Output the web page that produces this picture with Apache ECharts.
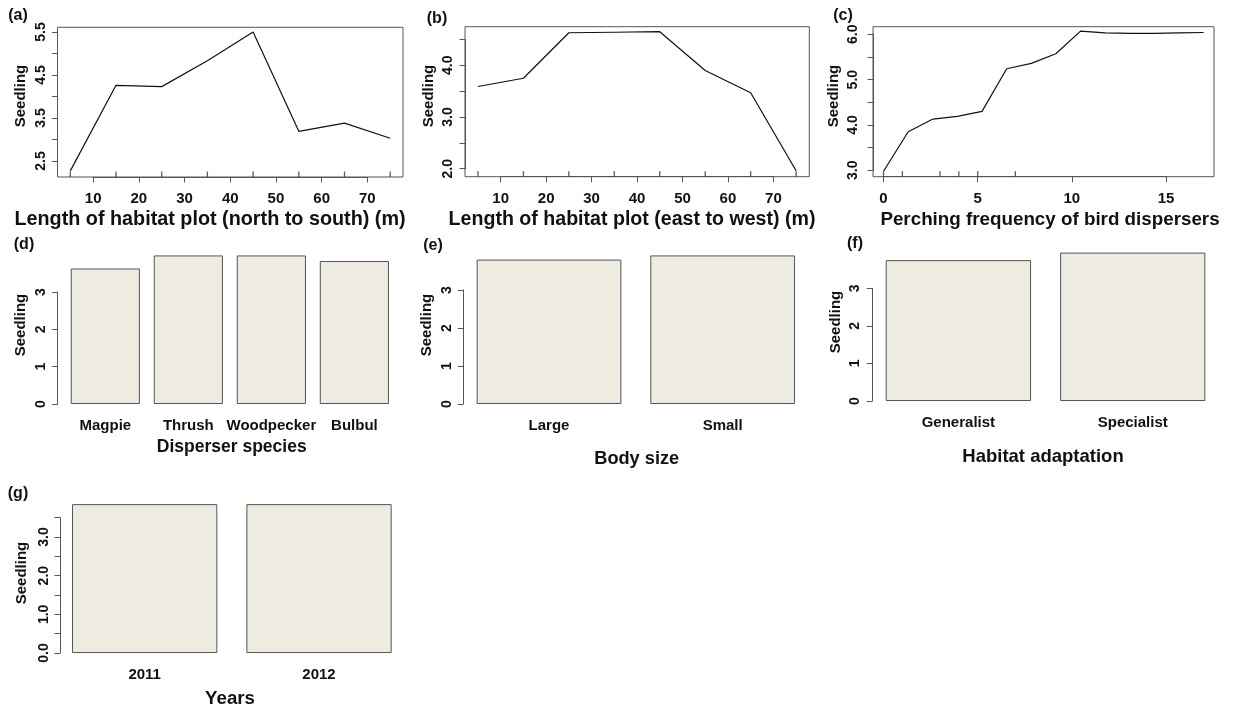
<!DOCTYPE html>
<html><head><meta charset="utf-8">
<script src="https://cdn.jsdelivr.net/npm/echarts@6/dist/echarts.min.js"></script>
<style>html,body{margin:0;padding:0;background:#fff}#c{width:1235px;height:710px}</style>
</head><body><div id="c"></div>
<script>
// ---------------- data ----------------
const aX = [5, 15, 25, 35, 45, 55, 65, 75];
const aY = [2.27, 4.26, 4.23, 4.83, 5.50, 3.19, 3.38, 3.03];
const aRug = [5, 15, 25, 35, 45, 55, 65, 75];
const aXTicks = [10, 20, 30, 40, 50, 60, 70];
const aXLabels = ['10', '20', '30', '40', '50', '60', '70'];
const aYTicks = [2.5, 3.0, 3.5, 4.0, 4.5, 5.0, 5.5];
const aYLabels = ['2.5', '', '3.5', '', '4.5', '', '5.5'];

const bX = [5, 15, 25, 35, 45, 55, 65, 75];
const bY = [3.59, 3.75, 4.63, 4.64, 4.65, 3.90, 3.47, 1.96];
const bRug = [5, 15, 25, 35, 45, 55, 65, 75];
const bXTicks = [10, 20, 30, 40, 50, 60, 70];
const bXLabels = ['10', '20', '30', '40', '50', '60', '70'];
const bYTicks = [2.0, 2.5, 3.0, 3.5, 4.0, 4.5];
const bYLabels = ['2.0', '', '3.0', '', '4.0', ''];

const cX = [0, 1.31, 2.62, 3.92, 5.23, 6.54, 7.85, 9.15, 10.46, 11.77, 13.08, 14.38, 15.69, 17.0];
const cY = [2.98, 3.85, 4.13, 4.19, 4.30, 5.24, 5.36, 5.57, 6.07, 6.03, 6.02, 6.02, 6.03, 6.04];
const cRug = [0, 1, 3, 4, 5, 7];
const cXTicks = [0, 5, 10, 15];
const cXLabels = ['0', '5', '10', '15'];
const cYTicks = [3.0, 3.5, 4.0, 4.5, 5.0, 5.5, 6.0];
const cYLabels = ['3.0', '', '4.0', '', '5.0', '', '6.0'];

const dCats = ['Magpie', 'Thrush', 'Woodpecker', 'Bulbul'];
const dVals = [3.63, 3.98, 3.98, 3.83];
const dYTicks = [0, 1, 2, 3];
const dYLabels = ['0', '1', '2', '3'];

const eCats = ['Large', 'Small'];
const eVals = [3.80, 3.91];
const eYTicks = [0, 1, 2, 3];
const eYLabels = ['0', '1', '2', '3'];

const fCats = ['Generalist', 'Specialist'];
const fVals = [3.75, 3.95];
const fYTicks = [0, 1, 2, 3];
const fYLabels = ['0', '1', '2', '3'];

const gCats = ['2011', '2012'];
const gVals = [3.85, 3.85];
const gYTicks = [0, 0.5, 1.0, 1.5, 2.0, 2.5, 3.0, 3.5];
const gYLabels = ['0.0', '', '1.0', '', '2.0', '', '3.0', ''];

// ---------------- layout / style ----------------
const FONT = '"Liberation Sans", Arial, sans-serif';
const AX = '#555';
const TXT = '#111';

const grids = [], xAxes = [], yAxes = [], series = [], graphics = [];

function addGrid(r, extra) {
  grids.push(Object.assign({left: r.l, top: r.t, width: r.r - r.l, height: r.b - r.t,
    show: false, containLabel: false, outerBoundsMode: 'none'}, extra || {}));
  return grids.length - 1;
}
function lbl(ticks, labels) {
  return function (v) {
    for (let i = 0; i < ticks.length; i++) if (Math.abs(ticks[i] - v) < 1e-6) return labels[i];
    return '';
  };
}
function visAxis(gi, ticks, labels, pos, margin, rotate, size) {
  return {
    gridIndex: gi, type: 'value', position: pos,
    min: ticks[0], max: ticks[ticks.length - 1], interval: ticks[1] - ticks[0],
    axisLine: {show: true, lineStyle: {color: AX, width: 1}},
    axisTick: {show: true, inside: false, length: 5.5, lineStyle: {color: AX, width: 1}},
    splitLine: {show: false},
    axisLabel: {show: true, formatter: lbl(ticks, labels), color: TXT, fontFamily: FONT,
      fontWeight: 'bold', fontSize: size, margin: margin, rotate: rotate || 0,
      verticalAlign: 'middle', showMinLabel: true, showMaxLabel: true}
  };
}
function text(str, x, y, size, rot) {
  graphics.push({type: 'text', x: x, y: y, rotation: rot || 0, silent: true,
    style: {text: str, fontFamily: FONT, fontWeight: 'bold', fontSize: size, fill: TXT,
      align: 'center', verticalAlign: 'middle', textAlign: 'center', textVerticalAlign: 'middle'}});
}

function linePanel(P, xs, ys, rug, xT, xL, yT, yL) {
  const gi = addGrid(P.plot, {show: true, borderColor: AX, borderWidth: 1, backgroundColor: 'transparent'});
  const xi = xAxes.length, yi = yAxes.length;
  xAxes.push({gridIndex: gi, type: 'value', min: P.xr[0], max: P.xr[1], show: false});
  yAxes.push({gridIndex: gi, type: 'value', min: P.yr[0], max: P.yr[1], show: false});
  series.push({type: 'line', xAxisIndex: xi, yAxisIndex: yi, data: xs.map((x, i) => [x, ys[i]]),
    symbol: 'none', silent: true, lineStyle: {color: '#111', width: 1.2}, animation: false});
  series.push({type: 'scatter', xAxisIndex: xi, yAxisIndex: yi, data: rug.map(x => [x, P.yr[0]]),
    symbol: 'rect', symbolSize: [1.3, 5.5], symbolOffset: [0, -2.75], silent: true,
    itemStyle: {color: '#333'}, animation: false});
  const px = v => P.plot.l + (v - P.xr[0]) / (P.xr[1] - P.xr[0]) * (P.plot.r - P.plot.l);
  const py = v => P.plot.b - (v - P.yr[0]) / (P.yr[1] - P.yr[0]) * (P.plot.b - P.plot.t);
  // x axis
  const gx = addGrid({l: px(xT[0]), r: px(xT[xT.length - 1]), t: P.plot.b - 1, b: P.plot.b});
  xAxes.push(visAxis(gx, xT, xL, 'bottom', 22, 0, 15));
  yAxes.push({gridIndex: gx, type: 'value', show: false});
  // y axis
  const gy = addGrid({l: P.plot.l, r: P.plot.l + 1, t: py(yT[yT.length - 1]), b: py(yT[0])});
  xAxes.push({gridIndex: gy, type: 'value', show: false});
  yAxes.push(visAxis(gy, yT, yL, 'left', P.ym, 90, 14));
}

function barPanel(P, cats, vals, yT, yL) {
  const gi = addGrid({l: P.l, r: P.r, t: P.zero - P.unit * P.ymax, b: P.zero});
  const xi = xAxes.length, yi = yAxes.length;
  xAxes.push({gridIndex: gi, type: 'category', data: cats, boundaryGap: true,
    axisLine: {show: false}, axisTick: {show: false}, splitLine: {show: false},
    axisLabel: {show: true, interval: 0, color: TXT, fontFamily: FONT, fontWeight: 'bold',
      fontSize: 15, margin: 22, verticalAlign: 'middle'}});
  yAxes.push({gridIndex: gi, type: 'value', min: 0, max: P.ymax, show: false});
  series.push({type: 'bar', xAxisIndex: xi, yAxisIndex: yi, data: vals, barCategoryGap: '16.667%',
    silent: true, animation: false,
    itemStyle: {color: '#EEEBE0', borderColor: '#555', borderWidth: 1}});
  const ga = addGrid({l: P.axisX, r: P.axisX + 1, t: P.zero - P.unit * yT[yT.length - 1], b: P.zero});
  xAxes.push({gridIndex: ga, type: 'value', show: false});
  yAxes.push(visAxis(ga, yT, yL, 'left', P.ym, 90, 14));
}

linePanel({plot: {l: 57.5, t: 27.3, r: 403, b: 177}, xr: [2.2, 77.8], yr: [2.128, 5.609], ym: 16.5},
  aX, aY, aRug, aXTicks, aXLabels, aYTicks, aYLabels);
linePanel({plot: {l: 465, t: 26.7, r: 809.3, b: 176.7}, xr: [2.15, 77.9], yr: [1.845, 4.747], ym: 16.5},
  bX, bY, bRug, bXTicks, bXLabels, bYTicks, bYLabels);
linePanel({plot: {l: 873, t: 26.7, r: 1214, b: 176.7}, xr: [-0.56, 17.55], yr: [2.859, 6.168], ym: 20},
  cX, cY, cRug, cXTicks, cXLabels, cYTicks, cYLabels);

barPanel({l: 63.8, r: 395.9, zero: 404, unit: 37.33, ymax: 4.2, axisX: 57.7, ym: 17}, dCats, dVals, dYTicks, dYLabels);
barPanel({l: 462.2, r: 809.5, zero: 404, unit: 38.0, ymax: 4.2, axisX: 463.3, ym: 16}, eCats, eVals, eYTicks, eYLabels);
barPanel({l: 871.2, r: 1219.9, zero: 401, unit: 37.57, ymax: 4.2, axisX: 872.3, ym: 17}, fCats, fVals, fYTicks, fYLabels);
barPanel({l: 57.5, r: 406.2, zero: 653, unit: 38.67, ymax: 4.2, axisX: 60, ym: 16}, gCats, gVals, gYTicks, gYLabels);

// panel letters
text('(a)', 18, 16, 16); text('(b)', 437, 19, 16); text('(c)', 843, 16, 16);
text('(d)', 24, 245, 16); text('(e)', 433, 246, 16); text('(f)', 855, 244, 16); text('(g)', 18, 494, 16);
// axis titles
text('Length of habitat plot (north to south) (m)', 210, 220, 19.8);
text('Length of habitat plot (east to west) (m)', 632, 220, 19.6);
text('Perching frequency of bird dispersers', 1050, 220, 18.8);
text('Disperser species', 231.7, 447, 17.5);
text('Body size', 636.7, 459, 18.2);
text('Habitat adaptation', 1043, 456.5, 18.5);
text('Years', 230, 699, 18.7);
// y titles
const R = Math.PI / 2;
text('Seedling', 21, 96, 15, R); text('Seedling', 429, 96, 15, R); text('Seedling', 834, 96, 15, R);
text('Seedling', 21, 325, 15, R); text('Seedling', 427, 325, 15, R); text('Seedling', 836, 322, 15, R);
text('Seedling', 22, 573, 15, R);

const chart = echarts.init(document.getElementById('c'));
chart.setOption({
  backgroundColor: '#ffffff', animation: false,
  grid: grids, xAxis: xAxes, yAxis: yAxes, series: series, graphic: graphics
});
</script></body></html>
